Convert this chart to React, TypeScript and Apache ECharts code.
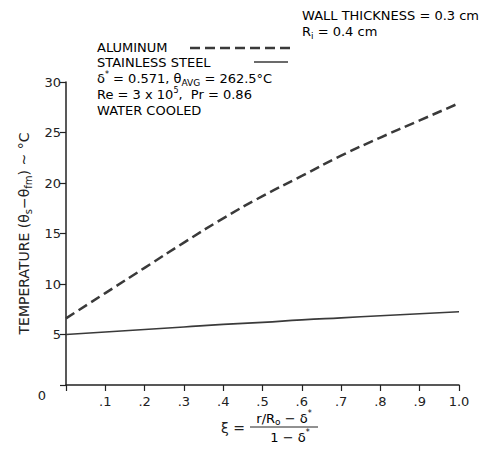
import React, { useEffect, useRef } from "react";
import * as echarts from "echarts";

const xi = [0, 0.1, 0.2, 0.3, 0.4, 0.5, 0.6, 0.7, 0.8, 0.9, 1.0];
const aluminum = [6.6, 9.1, 11.6, 14.1, 16.5, 18.7, 20.7, 22.7, 24.5, 26.2, 27.9];
const stainless = [5.0, 5.25, 5.5, 5.75, 6.0, 6.2, 6.45, 6.65, 6.85, 7.05, 7.25];
const xTickLabels = ["", ".1", ".2", ".3", ".4", ".5", ".6", ".7", ".8", ".9", "1.0"];
const yTickValues = [0, 5, 10, 15, 20, 25, 30];
const seriesNames = ["ALUMINUM", "STAINLESS STEEL"];

const FONT = "DejaVu Sans";
const INK = "#222222";
const LINE = "#3a3a3a";

const rich = {
  t: { fontSize: 13, fontFamily: FONT, color: INK, lineHeight: 17 },
  sub: { fontSize: 9, fontFamily: FONT, color: INK, verticalAlign: "bottom" as const },
  sup: { fontSize: 8, fontFamily: FONT, color: INK, verticalAlign: "top" as const },
};

const nameRich = {
  t: { fontSize: 14, fontFamily: FONT, color: INK, lineHeight: 18 },
  sub: { fontSize: 10, fontFamily: FONT, color: INK, verticalAlign: "bottom" as const },
};

export default function App() {
  const ref = useRef<HTMLDivElement>(null);
  useEffect(() => {
    if (!ref.current) return;
    const chart = echarts.init(ref.current, undefined, { renderer: "svg" });
    chart.setOption({
      animation: false,
      backgroundColor: "#ffffff",
      grid: { left: 66, right: 32, top: 82, bottom: 72 },
      xAxis: {
        type: "value",
        min: 0,
        max: 1,
        interval: 0.1,
        axisLine: { lineStyle: { color: INK, width: 1.5 } },
        axisTick: { show: true, length: 6, lineStyle: { color: INK, width: 1.2 } },
        splitLine: { show: false },
        axisLabel: {
          margin: 10,
          fontSize: 13,
          fontFamily: FONT,
          color: INK,
          formatter: (v: number) => xTickLabels[Math.round(v * 10)] ?? "",
        },
      },
      yAxis: {
        type: "value",
        min: 0,
        max: 30,
        interval: 5,
        axisLine: { show: true, lineStyle: { color: INK, width: 1.5 } },
        axisTick: { show: true, length: 6, lineStyle: { color: INK, width: 1.2 } },
        splitLine: { show: false },
        axisLabel: {
          margin: 5,
          fontSize: 13,
          fontFamily: FONT,
          color: INK,
          formatter: (v: number) => (v === yTickValues[0] ? "" : String(v)),
        },
        name: "{t|TEMPERATURE (θ}{sub|s}{t|−θ}{sub|fm}{t|) ~ °C}",
        nameLocation: "middle",
        nameRotate: 90,
        nameGap: 33,
        nameTextStyle: { rich: nameRich },
      },
      series: [
        {
          name: seriesNames[0],
          type: "line",
          smooth: true,
          symbol: "none",
          data: xi.map((x, i) => [x, aluminum[i]]),
          lineStyle: { color: LINE, width: 2.5, type: [10, 5] },
          itemStyle: { color: LINE },
        },
        {
          name: seriesNames[1],
          type: "line",
          smooth: true,
          symbol: "none",
          data: xi.map((x, i) => [x, stainless[i]]),
          lineStyle: { color: LINE, width: 1.6 },
          itemStyle: { color: LINE },
        },
      ],
      graphic: [
        {
          type: "text",
          x: 302,
          y: 7,
          style: { text: "{t|WALL THICKNESS = 0.3 cm}", rich },
        },
        {
          type: "text",
          x: 302,
          y: 23,
          style: { text: "{t|R}{sub|i}{t| = 0.4 cm}", rich },
        },
        {
          type: "text",
          x: 97,
          y: 39,
          style: { text: `{t|${seriesNames[0]}}`, rich },
        },
        {
          type: "line",
          shape: { x1: 190, y1: 48, x2: 290, y2: 48 },
          style: { stroke: LINE, lineWidth: 2.5, lineDash: [10, 5] },
        },
        {
          type: "text",
          x: 97,
          y: 54,
          style: { text: `{t|${seriesNames[1]}}`, rich },
        },
        {
          type: "line",
          shape: { x1: 254, y1: 62, x2: 288, y2: 62 },
          style: { stroke: LINE, lineWidth: 1.6 },
        },
        {
          type: "text",
          x: 97,
          y: 70,
          style: { text: "{t|δ}{sup|*}{t| = 0.571, θ}{sub|AVG}{t| = 262.5°C}", rich },
        },
        {
          type: "text",
          x: 97,
          y: 86,
          style: { text: "{t|Re = 3 x 10}{sup|5}{t|,  Pr = 0.86}", rich },
        },
        {
          type: "text",
          x: 97,
          y: 102,
          style: { text: "{t|WATER COOLED}", rich },
        },
        {
          type: "text",
          x: 42,
          y: 395,
          style: { text: "0", fontSize: 13, fontFamily: FONT, fill: INK, align: "center", verticalAlign: "middle" },
        },
        {
          type: "text",
          x: 245,
          y: 428,
          style: { text: "ξ =", fontSize: 14, fontFamily: FONT, fill: INK, align: "right", verticalAlign: "middle" },
        },
        {
          type: "text",
          x: 284,
          y: 418,
          style: { text: "{t|r/R}{sub|o}{t| − δ}{sup|*}", rich, align: "center", verticalAlign: "middle" },
        },
        {
          type: "line",
          shape: { x1: 250, y1: 427, x2: 318, y2: 427 },
          style: { stroke: INK, lineWidth: 1 },
        },
        {
          type: "text",
          x: 290,
          y: 437,
          style: { text: "{t|1 − δ}{sup|*}", rich, align: "center", verticalAlign: "middle" },
        },
      ],
    });
    return () => chart.dispose();
  }, []);
  return (
    <div
      ref={ref}
      style={{ position: "fixed", left: 0, top: 0, width: 491, height: 457 }}
    />
  );
}
